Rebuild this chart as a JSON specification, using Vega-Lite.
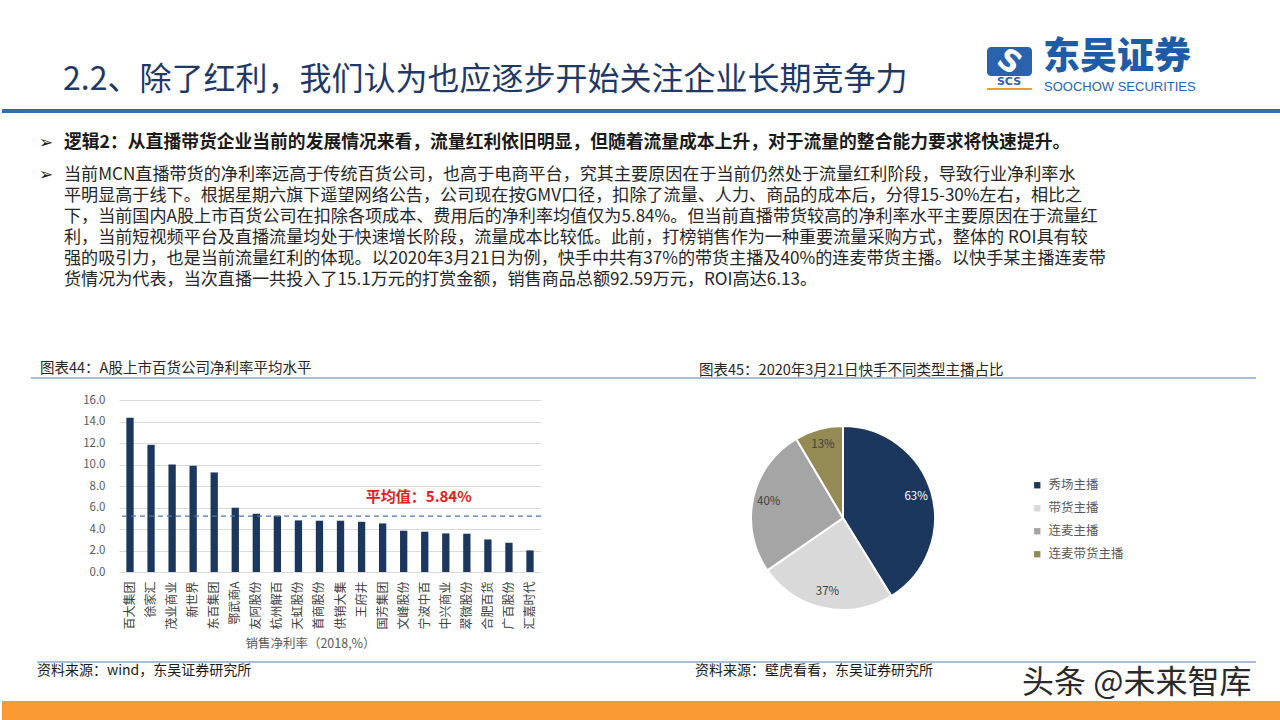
{
  "$schema": "https://vega.github.io/schema/vega-lite/v6.json",
  "background": "white",
  "padding": 0,
  "bounds": "flush",
  "spacing": 0,
  "config": {
    "view": {"stroke": null},
    "font": "Noto Sans CJK SC",
    "text": {"font": "Noto Sans CJK SC"},
    "title": {"font": "Noto Sans CJK SC"},
    "axis": {"labelFont": "Noto Sans CJK SC", "titleFont": "Noto Sans CJK SC"},
    "legend": {"labelFont": "Noto Sans CJK SC"}
  },
  "vconcat": [
    {
      "width": 1280,
      "height": 400,
      "layer": [
        {
          "data": {"values": [{"t": "2.2、除了红利，我们认为也应逐步开始关注企业长期竞争力"}]},
          "mark": {"type": "text", "align": "left", "baseline": "middle", "fontSize": 32, "color": "#1f3864"},
          "encoding": {"text": {"field": "t"}, "x": {"value": 61}, "y": {"value": 80}}
        },
        {
          "data": {"values": [{"k": 1}]},
          "mark": {"type": "rect", "color": "#2a63ad", "cornerRadius": 4},
          "encoding": {"x": {"value": 985}, "x2": {"value": 1030}, "y": {"value": 47}, "y2": {"value": 76}}
        },
        {
          "data": {"values": [{"t": "S"}]},
          "mark": {"type": "text", "align": "center", "baseline": "middle", "fontSize": 30, "fontWeight": "bold", "font": "DejaVu Sans", "color": "white", "angle": 35},
          "encoding": {"text": {"field": "t"}, "x": {"value": 1007}, "y": {"value": 62}}
        },
        {
          "data": {"values": [{"t": "SCS"}]},
          "mark": {"type": "text", "align": "center", "baseline": "middle", "fontSize": 11, "fontWeight": "bold", "font": "DejaVu Sans", "color": "#2a63ad"},
          "encoding": {"text": {"field": "t"}, "x": {"value": 1007}, "y": {"value": 82}}
        },
        {
          "data": {"values": [{"k": 1}]},
          "mark": {"type": "rect", "color": "#f39c33"},
          "encoding": {"x": {"value": 985}, "x2": {"value": 1030}, "y": {"value": 88}, "y2": {"value": 90}}
        },
        {
          "data": {"values": [{"t": "东吴证券"}]},
          "mark": {"type": "text", "align": "left", "baseline": "middle", "fontSize": 37, "fontWeight": 900, "color": "#1f5ca8"},
          "encoding": {"text": {"field": "t"}, "x": {"value": 1041}, "y": {"value": 58}}
        },
        {
          "data": {"values": [{"t": "SOOCHOW SECURITIES"}]},
          "mark": {"type": "text", "align": "left", "baseline": "middle", "fontSize": 13, "font": "Liberation Sans", "color": "#2a63ad"},
          "encoding": {"text": {"field": "t"}, "x": {"value": 1042}, "y": {"value": 87}}
        },
        {
          "data": {"values": [{"k": 1}]},
          "mark": {"type": "rule", "color": "#2f6ea8", "strokeWidth": 4},
          "encoding": {"x": {"value": 0}, "x2": {"value": 1280}, "y": {"value": 111}}
        },
        {
          "data": {"values": [{"b": "➢"}]},
          "mark": {"type": "text", "align": "left", "baseline": "middle", "fontSize": 17, "font": "DejaVu Sans", "color": "#1a1a1a"},
          "encoding": {"text": {"field": "b"}, "x": {"value": 37}, "y": {"value": 143}}
        },
        {
          "data": {"values": [{"b": "➢"}]},
          "mark": {"type": "text", "align": "left", "baseline": "middle", "fontSize": 17, "font": "DejaVu Sans", "color": "#1a1a1a"},
          "encoding": {"text": {"field": "b"}, "x": {"value": 37}, "y": {"value": 175}}
        },
        {
          "data": {"values": [{"t": "逻辑2：从直播带货企业当前的发展情况来看，流量红利依旧明显，但随着流量成本上升，对于流量的整合能力要求将快速提升。"}]},
          "mark": {"type": "text", "align": "left", "baseline": "middle", "fontSize": 17.8, "fontWeight": "bold", "color": "#1a1a1a"},
          "encoding": {"text": {"field": "t"}, "x": {"value": 62}, "y": {"value": 143}}
        },
        {
          "data": {"values": [
            {"line": 1, "t": "当前MCN直播带货的净利率远高于传统百货公司，也高于电商平台，究其主要原因在于当前仍然处于流量红利阶段，导致行业净利率水"},
            {"line": 2, "t": "平明显高于线下。根据星期六旗下遥望网络公告，公司现在按GMV口径，扣除了流量、人力、商品的成本后，分得15-30%左右，相比之"},
            {"line": 3, "t": "下，当前国内A股上市百货公司在扣除各项成本、费用后的净利率均值仅为5.84%。但当前直播带货较高的净利率水平主要原因在于流量红"},
            {"line": 4, "t": "利，当前短视频平台及直播流量均处于快速增长阶段，流量成本比较低。此前，打榜销售作为一种重要流量采购方式，整体的 ROI具有较"},
            {"line": 5, "t": "强的吸引力，也是当前流量红利的体现。以2020年3月21日为例，快手中共有37%的带货主播及40%的连麦带货主播。以快手某主播连麦带"},
            {"line": 6, "t": "货情况为代表，当次直播一共投入了15.1万元的打赏金额，销售商品总额92.59万元，ROI高达6.13。"}
          ]},
          "mark": {"type": "text", "align": "left", "baseline": "middle", "fontSize": 17.1, "color": "#262626"},
          "encoding": {"text": {"field": "t"}, "x": {"value": 62}, "y": {"field": "line", "type": "quantitative", "axis": null, "scale": {"domain": [1, 6], "range": [175, 280]}}}
        },
        {
          "data": {"values": [{"k": 1}]},
          "mark": {"type": "rule", "color": "#8fa8c6", "strokeWidth": 1.5},
          "encoding": {"x": {"value": 29}, "x2": {"value": 1254}, "y": {"value": 378}}
        },
        {
          "data": {"values": [{"k": 1}]},
          "mark": {"type": "rule", "color": "#8fa8c6", "strokeWidth": 1.5},
          "encoding": {"x": {"value": 35}, "x2": {"value": 1254}, "y": {"value": 662}}
        },
        {
          "data": {"values": [{"t": "资料来源：wind，东吴证券研究所"}]},
          "mark": {"type": "text", "align": "left", "baseline": "middle", "fontSize": 14, "color": "#1a1a1a"},
          "encoding": {"text": {"field": "t"}, "x": {"value": 35}, "y": {"value": 671}}
        },
        {
          "data": {"values": [{"t": "资料来源：壁虎看看，东吴证券研究所"}]},
          "mark": {"type": "text", "align": "left", "baseline": "middle", "fontSize": 14, "color": "#1a1a1a"},
          "encoding": {"text": {"field": "t"}, "x": {"value": 693}, "y": {"value": 671}}
        },
        {
          "data": {"values": [{"t": "头条 @未来智库"}]},
          "mark": {"type": "text", "align": "left", "baseline": "middle", "fontSize": 32, "color": "#2a2a2a"},
          "encoding": {"text": {"field": "t"}, "x": {"value": 1020}, "y": {"value": 683}}
        },
        {
          "data": {"values": [{"k": 1}]},
          "mark": {"type": "rect", "color": "#f99b32"},
          "encoding": {"x": {"value": 0}, "x2": {"value": 1280}, "y": {"value": 701}, "y2": {"value": 720}}
        }
      ]
    },
    {
      "bounds": "flush",
      "spacing": 0,
      "hconcat": [
        {"width": 117, "height": 1, "data": {"values": []}, "mark": {"type": "point", "opacity": 0}},
        {
          "width": 422,
          "height": 172,
          "title": {"text": "图表44：A股上市百货公司净利率平均水平", "anchor": "start", "frame": "group", "dx": -79, "offset": 18, "fontSize": 14.5, "fontWeight": "normal", "color": "#262626"},
          "data": {"values": [
            {"company": "百大集团", "rate": 14.36},
            {"company": "徐家汇", "rate": 11.83},
            {"company": "茂业商业", "rate": 10.0},
            {"company": "新世界", "rate": 9.88},
            {"company": "东百集团", "rate": 9.26},
            {"company": "鄂武商A", "rate": 5.98},
            {"company": "友阿股份", "rate": 5.42},
            {"company": "杭州解百", "rate": 5.23},
            {"company": "天虹股份", "rate": 4.8},
            {"company": "首商股份", "rate": 4.77},
            {"company": "供销大集", "rate": 4.77},
            {"company": "王府井", "rate": 4.67},
            {"company": "国芳集团", "rate": 4.52},
            {"company": "文峰股份", "rate": 3.84},
            {"company": "宁波中百", "rate": 3.75},
            {"company": "中兴商业", "rate": 3.59},
            {"company": "翠微股份", "rate": 3.56},
            {"company": "合肥百货", "rate": 3.03},
            {"company": "广百股份", "rate": 2.72},
            {"company": "汇嘉时代", "rate": 2.01}
          ]},
          "encoding": {
            "y": {"field": "rate", "type": "quantitative", "scale": {"domain": [0, 16], "nice": false},
              "axis": {"title": null, "tickCount": 8, "format": ".1f", "labelOverlap": false, "domain": false, "ticks": false, "labelPadding": 14, "labelFontSize": 11.5, "labelColor": "#595959", "grid": true, "gridColor": "#d9d9d9"}}
          },
          "layer": [
            {
              "mark": {"type": "bar", "color": "#1c375e"},
              "encoding": {
                "x": {"field": "company", "type": "nominal", "sort": null,
                  "scale": {"paddingInner": 0.653, "paddingOuter": 0.349},
                  "axis": {"title": "销售净利率（2018,%）", "titleX": 191, "labelAngle": -90, "labelFontSize": 12, "labelColor": "#404040", "labelOverlap": false, "domain": false, "ticks": false, "labelPadding": 9, "titleFontSize": 12.5, "titleFontWeight": "normal", "titleColor": "#595959", "titlePadding": 8}}
              }
            },
            {
              "data": {"values": [{"rate": 5.2, "label": "平均值：5.84%"}]},
              "mark": {"type": "rule", "color": "#4f76a8", "strokeDash": [5, 4], "strokeWidth": 1.3},
              "encoding": {}
            },
            {
              "data": {"values": [{"rate": 5.2, "label": "平均值：5.84%"}]},
              "mark": {"type": "text", "color": "#e02020", "fontSize": 15, "fontWeight": "bold", "dy": -19, "dx": -6, "align": "center", "baseline": "middle"},
              "encoding": {"x": {"datum": "宁波中百"}, "text": {"field": "label"}}
            }
          ]
        },
        {"width": 158, "height": 1, "data": {"values": []}, "mark": {"type": "point", "opacity": 0}},
        {
          "width": 288,
          "height": 236,
          "title": {"text": "图表45：2020年3月21日快手不同类型主播占比", "anchor": "start", "frame": "group", "offset": 22, "fontSize": 14.5, "fontWeight": "normal", "color": "#262626"},
          "data": {"values": [
            {"type": "秀场主播", "value": 63, "label": "63%", "idx": 1},
            {"type": "带货主播", "value": 37, "label": "37%", "idx": 2},
            {"type": "连麦主播", "value": 40, "label": "40%", "idx": 3},
            {"type": "连麦带货主播", "value": 13, "label": "13%", "idx": 4}
          ]},
          "layer": [
            {
              "mark": {"type": "arc", "outerRadius": 92, "stroke": "white", "strokeWidth": 2},
              "encoding": {
                "theta": {"field": "value", "type": "quantitative", "stack": true},
                "order": {"field": "idx", "type": "quantitative"},
                "color": {"field": "type", "type": "nominal",
                  "scale": {"domain": ["秀场主播", "带货主播", "连麦主播", "连麦带货主播"], "range": ["#1c375e", "#d9d9d9", "#a5a5a5", "#948a54"]},
                  "legend": {"orient": "none", "legendX": 1029, "legendY": 479, "title": null, "symbolType": "square", "symbolSize": 40, "symbolStrokeWidth": 0, "labelFontSize": 12.5, "labelColor": "#595959", "rowPadding": 10, "labelOffset": 5}}
              }
            },
            {
              "mark": {"type": "text", "radius": 76, "fontSize": 11.5, "align": "center", "baseline": "middle"},
              "encoding": {
                "theta": {"field": "value", "type": "quantitative", "stack": true},
                "order": {"field": "idx", "type": "quantitative"},
                "detail": {"field": "type", "type": "nominal"},
                "text": {"field": "label"},
                "color": {"condition": {"test": "datum.type === '秀场主播'", "value": "white"}, "value": "#404040"}
              }
            }
          ]
        }
      ]
    }
  ]
}
